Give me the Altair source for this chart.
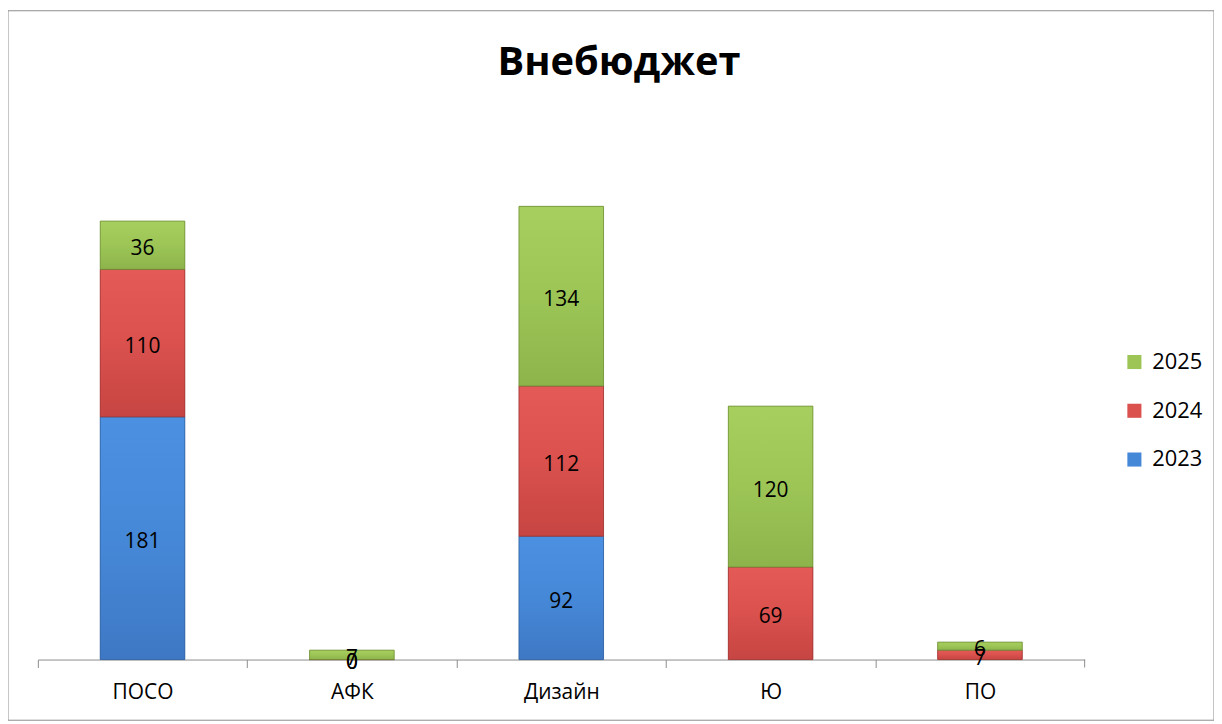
import altair as alt
import pandas as pd

categories = ["ПОСО", "АФК", "Дизайн", "Ю", "ПО"]
years = ["2023", "2024", "2025"]
v2023 = [181, 0, 92, None, None]
v2024 = [110, 0, 112, 69, 7]
v2025 = [36, 7, 134, 120, 6]
title_text = "Внебюджет"

rows = []
for i, c in enumerate(categories):
    for y, vals in zip(years, [v2023, v2024, v2025]):
        if vals[i] is not None:
            rows.append({"cat": c, "year": y, "v": vals[i], "ord": years.index(y)})
df = pd.DataFrame(rows)

FONT = "Open Sans"
W, H = 1052, 539
legend_domain = ["2025", "2024", "2023"]
colors = {"2025": "#9cc556", "2024": "#da514e", "2023": "#4688d8"}
tops = {"2025": "#a6cf60", "2024": "#e35a57", "2023": "#4c90e2"}
bottoms = {"2025": "#8db44b", "2024": "#c64542", "2023": "#3e78c4"}
strokes = {"2025": "#6f8f35", "2024": "#9c3432", "2023": "#2f5f9c"}

x = alt.X("cat:N", sort=categories, title=None,
          scale=alt.Scale(paddingInner=0, paddingOuter=0),
          axis=alt.Axis(domainColor="#8c8c8c", tickColor="#8c8c8c", tickSize=8,
                        tickOffset=-W / 10, labelOffset=W / 10, labelAngle=0,
                        labelFontSize=21, labelFont=FONT, labelColor="#000",
                        labelPadding=14))
y = alt.Y("v:Q", stack="zero", title=None,
          scale=alt.Scale(domain=[0, 400], nice=False), axis=None)
color = alt.Color("year:N", sort=legend_domain,
                  scale=alt.Scale(domain=legend_domain, range=[colors[k] for k in legend_domain]),
                  legend=alt.Legend(orient="none", legendX=1091, legendY=229, title=None,
                                    symbolType="square", symbolSize=200, symbolStrokeWidth=0.8,
                                    labelFontSize=22, labelFont=FONT, labelColor="#000",
                                    rowPadding=27, labelOffset=7))

base_bars = alt.Chart(df).mark_bar(size=85).encode(
    x=x, y=y, color=color, order=alt.Order("ord:Q"),
)

layers = [base_bars]
for yr in years:
    grad = alt.Gradient(gradient="linear", x1=0, x2=0, y1=0, y2=1,
                        stops=[alt.GradientStop(color=tops[yr], offset=0),
                               alt.GradientStop(color=colors[yr], offset=0.5),
                               alt.GradientStop(color=bottoms[yr], offset=1)])
    layers.append(
        alt.Chart(df).transform_stack(
            stack="v", groupby=["cat"], sort=[alt.SortField("ord")], as_=["y0", "y1"]
        ).transform_filter(alt.datum.year == yr).mark_bar(
            size=85, fill=grad, stroke=strokes[yr], strokeWidth=0.8
        ).encode(x=alt.X("cat:N", sort=categories), y=alt.Y("y0:Q"), y2="y1:Q")
    )

labels = alt.Chart(df).transform_stack(
    stack="v", groupby=["cat"], sort=[alt.SortField("ord")], as_=["y0", "y1"]
).transform_calculate(mid="(datum.y0 + datum.y1) / 2").mark_text(
    font=FONT, fontSize=21, color="#000", baseline="middle", dy=4
).encode(x=alt.X("cat:N", sort=categories), y=alt.Y("mid:Q"), text="v:Q")

end_tick = alt.Chart(pd.DataFrame({"a": [0]})).mark_rule(color="#8c8c8c").encode(
    x=alt.value(W), y=alt.value(H), y2=alt.value(H + 8))

border = alt.Chart(pd.DataFrame({"a": [0]})).mark_rect(fill=None, stroke="#8c8c8c", strokeWidth=1).encode(
    x=alt.value(-30), x2=alt.value(1182), y=alt.value(-113), y2=alt.value(600))

title = alt.Chart(pd.DataFrame({"t": [title_text]})).mark_text(
    font=FONT, fontSize=40, fontWeight="bold", color="#000", baseline="middle", align="center"
).encode(x=alt.value(W / 2 + 58), y=alt.value(-60), text="t:N")

chart = alt.layer(border, *layers, labels, end_tick, title).properties(
    width=W, height=H,
    autosize=alt.AutoSizeParams(type="none"),
    padding={"left": 30, "top": 114, "right": 130, "bottom": 61},
).configure_view(stroke=None)

chart.save("out.html", embed_options={"renderer": "svg", "actions": False})
